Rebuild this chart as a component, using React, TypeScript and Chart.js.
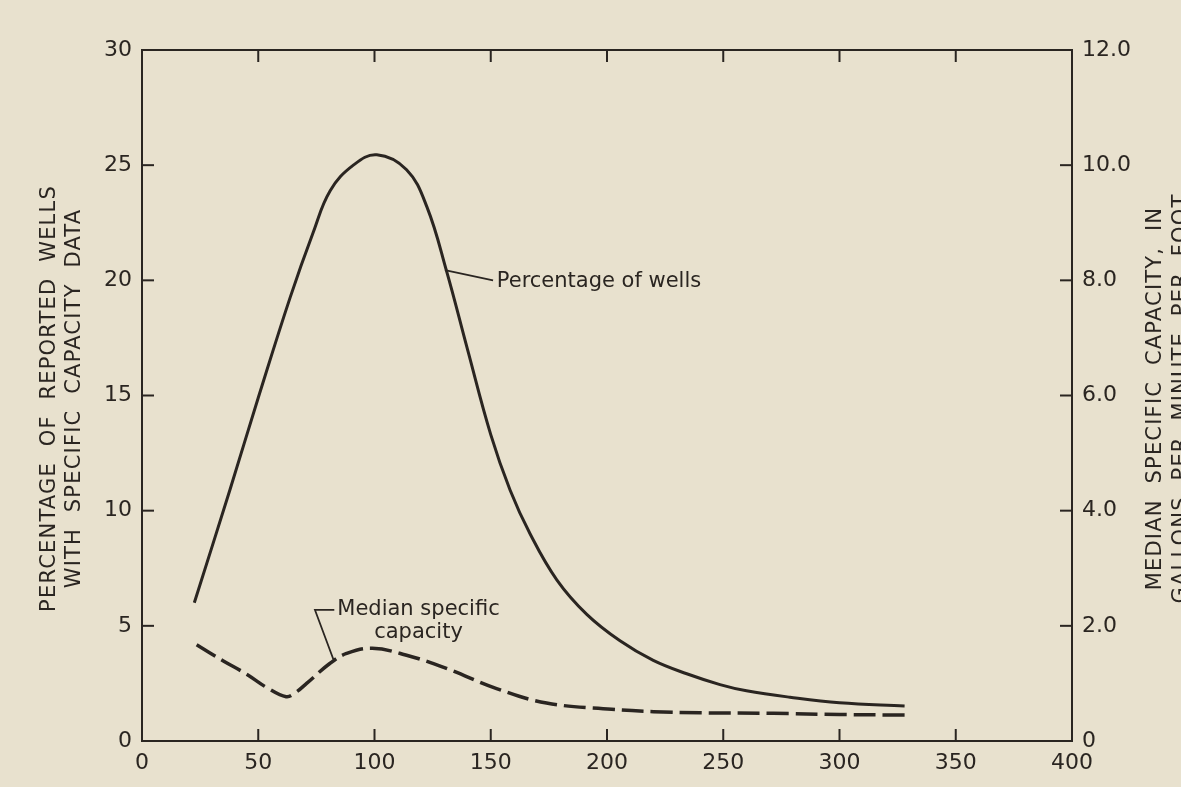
import React, { useEffect, useRef } from "react";
import { Chart, registerables } from "chart.js";

Chart.register(...registerables);

// ---- data ----
const xTickStep = 50;
const leftTickStep = 5;
const rightTickStep = 2;

// Percentage of wells (left axis, percent)
const wellsX = [22.5, 37.8, 50, 63.7, 73.7, 81, 90.9, 101, 113.8, 122.5, 131, 140, 150, 158.3, 166.9, 178.4, 191.3, 205.6, 219.9, 234.3, 248.6, 260, 278.7, 300, 328];
const wellsPercent = [6.0, 10.9, 14.9, 19.25, 22.1, 23.9, 25.0, 25.45, 24.8, 23.2, 20.4, 17.0, 13.3, 10.9, 9.0, 7.0, 5.5, 4.35, 3.5, 2.92, 2.45, 2.18, 1.9, 1.66, 1.52];

// Median specific capacity (right axis, gallons per minute per foot)
const capacityX = [23.5, 35, 45, 54, 62, 66, 70.8, 80.9, 88, 99, 113.8, 131, 152.5, 174, 202, 220, 240, 271.5, 300, 328];
const capacityGpmFt = [1.67, 1.39, 1.16, 0.92, 0.77, 0.84, 1.0, 1.35, 1.52, 1.61, 1.49, 1.26, 0.91, 0.66, 0.55, 0.51, 0.49, 0.48, 0.46, 0.45];

const leftTitle = ["PERCENTAGE  OF  REPORTED  WELLS", "WITH  SPECIFIC  CAPACITY  DATA"];
const rightTitle = ["MEDIAN  SPECIFIC  CAPACITY,  IN", "GALLONS  PER  MINUTE  PER  FOOT"];
const wellsLabel = "Percentage of wells";
const capacityLabel = ["Median specific", "capacity"];

const BG = "#e8e1ce";
const INK = "#2a2521";
const FONT = "DejaVu Sans";

const decorPlugin = {
  id: "decor",
  beforeDraw(chart: any) {
    const { ctx, width, height } = chart;
    ctx.save();
    ctx.fillStyle = BG;
    ctx.fillRect(0, 0, width, height);
    ctx.restore();
  },
  afterDraw(chart: any) {
    const { ctx, chartArea: a, scales } = chart;
    const x = scales.x, y = scales.y, y1 = scales.y1;
    const TICK = 12;
    ctx.save();
    ctx.strokeStyle = INK;
    ctx.fillStyle = INK;
    ctx.lineWidth = 2;
    ctx.lineCap = "butt";
    // frame
    ctx.strokeRect(a.left, a.top, a.right - a.left, a.bottom - a.top);
    const line = (x0: number, y0: number, x2: number, y2: number) => {
      ctx.beginPath();
      ctx.moveTo(x0, y0);
      ctx.lineTo(x2, y2);
      ctx.stroke();
    };
    // inward ticks
    x.ticks.forEach((t: any) => {
      if (t.value <= x.min || t.value >= x.max) return;
      const px = x.getPixelForValue(t.value);
      line(px, a.bottom, px, a.bottom - TICK);
      line(px, a.top, px, a.top + TICK);
    });
    y.ticks.forEach((t: any) => {
      if (t.value <= y.min || t.value >= y.max) return;
      const py = y.getPixelForValue(t.value);
      line(a.left, py, a.left + TICK, py);
    });
    y1.ticks.forEach((t: any) => {
      if (t.value <= y1.min || t.value >= y1.max) return;
      const py = y1.getPixelForValue(t.value);
      line(a.right, py, a.right - TICK, py);
    });

    // annotation: Percentage of wells
    ctx.lineWidth = 1.8;
    line(x.getPixelForValue(130.3), y.getPixelForValue(20.44), x.getPixelForValue(151.0), y.getPixelForValue(20.0));
    ctx.font = `21px "${FONT}"`;
    ctx.textAlign = "left";
    ctx.textBaseline = "middle";
    ctx.fillText(wellsLabel, x.getPixelForValue(152.6), y.getPixelForValue(19.93));

    // annotation: Median specific capacity
    const tx = x.getPixelForValue(84.0);
    const w = ctx.measureText(capacityLabel[0]).width;
    ctx.fillText(capacityLabel[0], tx, y.getPixelForValue(5.69));
    ctx.textAlign = "center";
    ctx.fillText(capacityLabel[1], tx + w / 2, y.getPixelForValue(4.69));
    ctx.beginPath();
    ctx.moveTo(tx - 3, y.getPixelForValue(5.69));
    ctx.lineTo(x.getPixelForValue(74.4), y.getPixelForValue(5.69));
    ctx.lineTo(x.getPixelForValue(82.3), y.getPixelForValue(3.55));
    ctx.stroke();

    // axis titles
    ctx.font = `21px "${FONT}"`;
    (ctx as any).letterSpacing = "1.2px";
    ctx.textAlign = "center";
    ctx.textBaseline = "middle";
    const cy = (a.top + a.bottom) / 2 + 3;
    const drawRot = (text: string, cx: number) => {
      ctx.save();
      ctx.translate(cx, cy);
      ctx.rotate(-Math.PI / 2);
      ctx.fillText(text, 0, 0);
      ctx.restore();
    };
    drawRot(leftTitle[0], a.left - 92);
    drawRot(leftTitle[1], a.left - 67);
    drawRot(rightTitle[0], a.right + 84);
    drawRot(rightTitle[1], a.right + 110);
    ctx.restore();
  },
};

export default function App() {
  const ref = useRef<HTMLCanvasElement | null>(null);
  useEffect(() => {
    if (!ref.current) return;
    Chart.defaults.font.family = FONT;
    const tickFont = { family: FONT, size: 22 };
    const chart = new Chart(ref.current, {
      type: "line",
      data: {
        datasets: [
          {
            label: wellsLabel,
            data: wellsX.map((v, i) => ({ x: v, y: wellsPercent[i] })),
            yAxisID: "y",
            borderColor: INK,
            borderWidth: 3,
            pointRadius: 0,
            fill: false,
            tension: 0.4,
          },
          {
            label: "Median specific capacity",
            data: capacityX.map((v, i) => ({ x: v, y: capacityGpmFt[i] })),
            yAxisID: "y1",
            borderColor: INK,
            borderWidth: 3.5,
            borderDash: [22, 7],
            borderCapStyle: "butt",
            pointRadius: 0,
            fill: false,
            tension: 0.4,
          },
        ],
      },
      options: {
        animation: false,
        responsive: true,
        maintainAspectRatio: false,
        layout: { padding: { top: 50, left: 0, right: 0, bottom: 0 } },
        plugins: { legend: { display: false }, tooltip: { enabled: false } },
        scales: {
          x: {
            type: "linear",
            position: "bottom",
            min: 0,
            max: 400,
            grid: { display: false, drawTicks: false },
            border: { display: false },
            ticks: { stepSize: xTickStep, font: tickFont, color: INK, padding: 9, maxRotation: 0, autoSkip: false },
            afterFit: (s: any) => { s.height = 46; },
          },
          y: {
            type: "linear",
            position: "left",
            min: 0,
            max: 30,
            grid: { display: false, drawTicks: false },
            border: { display: false },
            ticks: { stepSize: leftTickStep, font: tickFont, color: INK, padding: 10 },
            afterFit: (s: any) => { s.width = 142; },
          },
          y1: {
            type: "linear",
            position: "right",
            min: 0,
            max: 12,
            grid: { display: false, drawTicks: false },
            border: { display: false },
            ticks: {
              stepSize: rightTickStep,
              font: tickFont,
              color: INK,
              padding: 10,
              callback: (v: any) => (Number(v) === 0 ? "0" : Number(v).toFixed(1)),
            },
            afterFit: (s: any) => { s.width = 109; },
          },
        },
      } as any,
      plugins: [decorPlugin],
    });
    return () => chart.destroy();
  }, []);
  return (
    <div style={{ position: "fixed", left: 0, top: 0, width: 1181, height: 787, background: BG }}>
      <canvas ref={ref} />
    </div>
  );
}
